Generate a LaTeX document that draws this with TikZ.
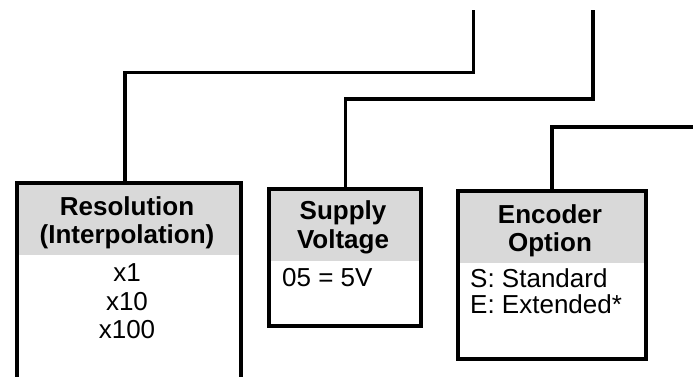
\documentclass[tikz,border=0pt]{standalone}
\usepackage{fontspec}
\setmainfont{Liberation Sans}
\definecolor{hdr}{RGB}{217,217,217}
\begin{document}
\begin{tikzpicture}[x=1pt,y=-1pt,
  box/.style={draw=black,line width=4pt,inner sep=0pt,anchor=north west},
  hdrfill/.style={fill=hdr,inner sep=0pt,anchor=north west},
  conn/.style={draw=black,line width=3.3pt},
  htext/.style={font=\fontsize{26}{29}\selectfont\bfseries,anchor=base,inner sep=0pt},
  btext/.style={font=\fontsize{26}{29}\selectfont,anchor=base,inner sep=0pt},
  bltext/.style={font=\fontsize{26}{29}\selectfont,anchor=base west,inner sep=0pt}]
\useasboundingbox (0,0) rectangle (693,376);
\fill[white] (0,0) rectangle (693,376);
% header fills
\node[hdrfill,minimum width=224pt,minimum height=74pt] (h1) at (15,181) {};
\node[hdrfill,minimum width=152pt,minimum height=74pt] (h2) at (267,187) {};
\node[hdrfill,minimum width=188pt,minimum height=74pt] (h3) at (456,188.5) {};
% boxes
\node[box,minimum width=224pt,minimum height=230pt] (b1) at (15,181) {};
\node[box,minimum width=152pt,minimum height=137pt] (b2) at (267,187) {};
\node[box,minimum width=188pt,minimum height=168pt] (b3) at (456,188.5) {};
% texts box 1
\node[htext] (t1a) at (127,215) {Resolution};
\node[htext] (t1b) at (127,243) {(Interpolation)};
\node[btext] (t1c) at (127,281) {x1};
\node[btext] (t1d) at (127,310) {x10};
\node[btext] (t1e) at (127,338) {x100};
% texts box 2
\node[htext] (t2a) at (343,219) {Supply};
\node[htext] (t2b) at (343,248) {Voltage};
\node[bltext] (t2c) at (282,286) {05 = 5V};
% texts box 3
\node[htext] (t3a) at (550,223) {Encoder};
\node[htext] (t3b) at (550,251) {Option};
\node[bltext] (t3c) at (470,287) {S: Standard};
\node[bltext] (t3d) at (470,313) {E: Extended*};
% connector end points
\coordinate (c1a) at (125,72.5);
\coordinate (c1b) at (473.5,72.5);
\coordinate (c1c) at (473.5,9.5);
\coordinate (c2a) at (345.5,99);
\coordinate (c2b) at (593,99);
\coordinate (c2c) at (593,9.5);
\coordinate (c3a) at (552,127);
\coordinate (c3b) at (700,127);
\draw[conn] (b1.north -| c1a) -- (c1a) -- (c1b) -- (c1c);
\draw[conn] (b2.north -| c2a) -- (c2a) -- (c2b) -- (c2c);
\draw[conn] (b3.north -| c3a) -- (c3a) -- (c3b);
\end{tikzpicture}
\end{document}
